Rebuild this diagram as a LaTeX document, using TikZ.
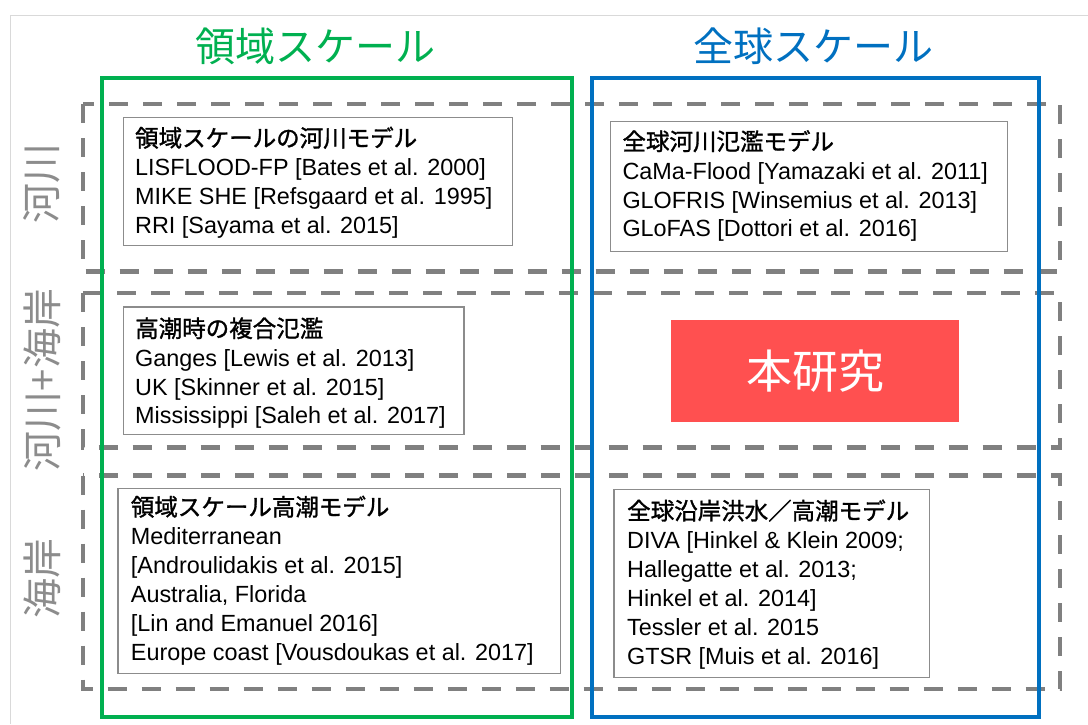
\documentclass[tikz,border=0pt]{standalone}
\usepackage{fontspec}
\setmainfont{Liberation Sans}
\newfontfamily\jp{Noto Sans CJK JP}
\newfontfamily\jpm{Noto Sans CJK JP}[FakeBold=1.3]
\definecolor{ggreen}{HTML}{00B050}
\definecolor{gblue}{HTML}{0070C0}
\definecolor{dashgray}{HTML}{808080}
\definecolor{boxgray}{HTML}{8C8C8C}
\definecolor{framegray}{HTML}{D9D9D9}
\definecolor{sidegray}{HTML}{8C8C8C}
\definecolor{redc}{HTML}{FF5050}
\newcommand{\hdrfont}{\jpm\fontsize{23.5}{28.9}\selectfont}
\begin{document}
\begin{tikzpicture}[x=1pt,y=-1pt,
  frameline/.style={draw=framegray, line width=1pt},
  scalefr/.style={line width=4pt},
  rowbox/.style={draw=dashgray, line width=4.5pt, dash pattern=on 19pt off 15pt},
  refbox/.style={draw=boxgray, line width=1.3pt, anchor=north west, inner sep=0pt},
  reftext/.style={anchor=north west, inner sep=0pt, align=left, font=\fontsize{23.4}{28.9}\selectfont},
  colhead/.style={font=\jp\fontsize{40}{48}\selectfont},
  side/.style={font=\jp\fontsize{40}{48}\selectfont, text=sidegray, rotate=90},
]
\useasboundingbox (0,0) rectangle (1088,724);
% outer frame
\draw[frameline] (10.5,724) -- (10.5,15.5) -- (1088,15.5);
% column headings
\node[colhead, text=ggreen] (hl) at (315,46.5) {領域スケール};
\node[colhead, text=gblue] (hr) at (813.5,46.5) {全球スケール};
% side labels
\node[side] (s1) at (42,183) {河川};
\node[side] (s2) at (42,380) {河川+海岸};
\node[side] (s3) at (42,578) {海岸};
% dashed rows
\draw[rowbox] (83,104) rectangle (1060,271.5);
\draw[rowbox] (83,293) rectangle (1060,447.3);
\draw[rowbox] (83,475.5) rectangle (1060,689);
% scale frames
\draw[scalefr, draw=ggreen] (102,78) rectangle (571.7,716.7);
\draw[scalefr, draw=gblue] (592,77.5) rectangle (1039,717);
% reference boxes
\node[refbox, minimum width=388.8pt, minimum height=128.5pt] (b1) at (122.7,116.5) {};
\node[reftext] (t1) at (135,124.5) {\rule{0pt}{22pt}{\hdrfont 領域スケールの河川モデル}\\
LISFLOOD-FP {[}Bates et al. 2000{]}\\
MIKE SHE {[}Refsgaard et al. 1995{]}\\
RRI {[}Sayama et al. 2015{]}};

\node[refbox, minimum width=396.9pt, minimum height=130.3pt] (b2) at (609.8,120.5) {};
\node[reftext] (t2) at (622.3,128) {\rule{0pt}{22pt}{\hdrfont 全球河川氾濫モデル}\\
CaMa-Flood {[}Yamazaki et al. 2011{]}\\
GLOFRIS {[}Winsemius et al. 2013{]}\\
GLoFAS {[}Dottori et al. 2016{]}};

\node[refbox, minimum width=340.6pt, minimum height=127.7pt] (b3) at (122.7,306.3) {};
\node[reftext] (t3) at (135,315) {\rule{0pt}{22pt}{\hdrfont 高潮時の複合氾濫}\\
Ganges {[}Lewis et al. 2013{]}\\
UK {[}Skinner et al. 2015{]}\\
Mississippi {[}Saleh et al. 2017{]}};

\node[refbox, minimum width=442.7pt, minimum height=185.2pt] (b4) at (117.3,487.5) {};
\node[reftext] (t4) at (130.7,493.5) {\rule{0pt}{22pt}{\hdrfont 領域スケール高潮モデル}\\
Mediterranean\\
{[}Androulidakis et al. 2015{]}\\
Australia, Florida\\
{[}Lin and Emanuel 2016{]}\\
Europe coast {[}Vousdoukas et al. 2017{]}};

\node[refbox, minimum width=315.5pt, minimum height=188.5pt] (b5) at (613.2,488.5) {};
\node[reftext] (t5) at (627,497.4) {\rule{0pt}{22pt}{\hdrfont 全球沿岸洪水／高潮モデル}\\
DIVA {[}Hinkel \& Klein 2009;\\
Hallegatte et al. 2013;\\
Hinkel et al. 2014{]}\\
Tessler et al. 2015\\
GTSR {[}Muis et al. 2016{]}};

% this study
\node[fill=redc, minimum width=288pt, minimum height=101.7pt, inner sep=0pt, text=white, font=\jp\fontsize{46}{50}\selectfont] (rb) at (815,370.85) {本研究};
\end{tikzpicture}
\end{document}
